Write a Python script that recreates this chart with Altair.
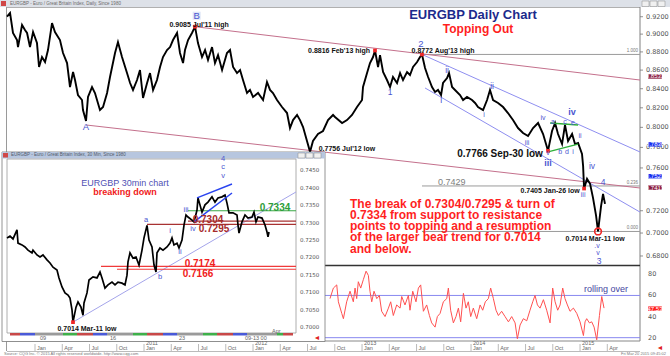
import altair as alt
import pandas as pd

FONT = "Liberation Sans"
RED = "#ff1f1f"
WAVE = "#4a55d0"
AXTXT = "#555555"

# ---------------- main daily EURGBP (fractional year, price) ----------------
px_t = [
    2009.743, 2009.771, 2009.798, 2009.835, 2009.844, 2009.881, 2009.908, 2009.927, 2009.954, 2009.982,
    2010.018, 2010.037, 2010.064, 2010.092, 2010.119, 2010.156, 2010.183, 2010.229, 2010.257, 2010.294,
    2010.321, 2010.349, 2010.367, 2010.394, 2010.431, 2010.440, 2010.468, 2010.486, 2010.523, 2010.550,
    2010.596, 2010.624, 2010.661, 2010.688, 2010.734, 2010.761, 2010.798, 2010.844, 2010.872, 2010.899,
    2010.936, 2010.963, 2010.991, 2011.028, 2011.055, 2011.083, 2011.119, 2011.147, 2011.174, 2011.211,
    2011.239, 2011.266, 2011.303, 2011.330, 2011.358, 2011.376, 2011.404, 2011.440, 2011.468, 2011.495,
    2011.532, 2011.560, 2011.587, 2011.624, 2011.651, 2011.679, 2011.716, 2011.761, 2011.789, 2011.817,
    2011.853, 2011.881, 2011.908, 2011.945, 2011.972, 2012.000, 2012.046, 2012.092, 2012.128, 2012.156,
    2012.183, 2012.220, 2012.266, 2012.312, 2012.339, 2012.367, 2012.404, 2012.431, 2012.459, 2012.495,
    2012.523, 2012.550, 2012.596, 2012.642, 2012.688, 2012.734, 2012.752, 2012.817, 2012.862, 2012.908,
    2012.954, 2013.000, 2013.009, 2013.046, 2013.073, 2013.101, 2013.119, 2013.147, 2013.165, 2013.193,
    2013.229, 2013.257, 2013.284, 2013.321, 2013.349, 2013.376, 2013.413, 2013.440, 2013.468, 2013.505,
    2013.532, 2013.550, 2013.578, 2013.606, 2013.642, 2013.670, 2013.697, 2013.725, 2013.743, 2013.780,
    2013.798, 2013.826, 2013.853, 2013.899, 2013.927, 2013.963, 2014.009, 2014.037, 2014.064, 2014.110,
    2014.147, 2014.174, 2014.202, 2014.248, 2014.294, 2014.339, 2014.385, 2014.431, 2014.477, 2014.523,
    2014.569, 2014.615, 2014.661, 2014.706, 2014.743, 2014.771, 2014.798, 2014.835, 2014.862, 2014.890,
    2014.927, 2014.954, 2014.982, 2015.018, 2015.028, 2015.037, 2015.064, 2015.092, 2015.119, 2015.147,
    2015.165, 2015.193, 2015.211, 2015.229]
px_v = [
    0.9200, 0.9243, 0.9013, 0.8933, 0.8854, 0.9104, 0.9047, 0.9013, 0.8854, 0.9024,
    0.8899, 0.8634, 0.8743, 0.8688, 0.8821, 0.9127, 0.9024, 0.8933, 0.8788, 0.8677,
    0.8418, 0.8579, 0.8493, 0.8334, 0.8281, 0.8177, 0.8064, 0.8313, 0.8418, 0.8355,
    0.8177, 0.8208, 0.8355, 0.8525, 0.8788, 0.8910, 0.8743, 0.8568, 0.8461, 0.8387,
    0.8493, 0.8601, 0.8302, 0.8461, 0.8568, 0.8387, 0.8493, 0.8634, 0.8743, 0.8821,
    0.8854, 0.8933, 0.9013, 0.8788, 0.8677, 0.8821, 0.8933, 0.9013, 0.9085, 0.8899,
    0.8743, 0.8821, 0.8710, 0.8854, 0.8677, 0.8765, 0.8601, 0.8788, 0.8821, 0.8634,
    0.8568, 0.8601, 0.8493, 0.8355, 0.8387, 0.8313, 0.8355, 0.8281, 0.8472, 0.8387,
    0.8355, 0.8281, 0.8208, 0.8146, 0.7993, 0.8074, 0.8126, 0.8074, 0.8003, 0.7863,
    0.7756, 0.7863, 0.7933, 0.7963, 0.8074, 0.8126, 0.8105, 0.8044, 0.8074, 0.8126,
    0.8208, 0.8281, 0.8418, 0.8568, 0.8677, 0.8743, 0.8816, 0.8634, 0.8765, 0.8579,
    0.8493, 0.8418, 0.8525, 0.8461, 0.8568, 0.8493, 0.8579, 0.8547, 0.8634, 0.8688,
    0.8743, 0.8772, 0.8623, 0.8525, 0.8418, 0.8366, 0.8387, 0.8334, 0.8461, 0.8514,
    0.8568, 0.8418, 0.8387, 0.8334, 0.8281, 0.8313, 0.8281, 0.8250, 0.8208, 0.8177,
    0.8281, 0.8387, 0.8281, 0.8250, 0.8208, 0.8146, 0.8074, 0.7993, 0.7943, 0.7913,
    0.7993, 0.8044, 0.7933, 0.7766, 0.7963, 0.8044, 0.7933, 0.7833, 0.8024, 0.7863,
    0.7933, 0.7833, 0.7843, 0.7736, 0.7620, 0.7405, 0.7496, 0.7449, 0.7318, 0.7155,
    0.7014, 0.7245, 0.7355, 0.7263]

# ---------------- daily RSI ----------------
rsi_t = [
    2012.706, 2012.737, 2012.768, 2012.783, 2012.814, 2012.829, 2012.859, 2012.890, 2012.920, 2012.936,
    2012.951, 2012.966, 2012.988, 2013.012, 2013.037, 2013.058, 2013.073, 2013.089, 2013.110, 2013.135,
    2013.159, 2013.180, 2013.211, 2013.242, 2013.263, 2013.287, 2013.318, 2013.349, 2013.364, 2013.394,
    2013.425, 2013.440, 2013.465, 2013.495, 2013.517, 2013.538, 2013.563, 2013.593, 2013.618, 2013.639,
    2013.670, 2013.691, 2013.716, 2013.746, 2013.777, 2013.792, 2013.813, 2013.838, 2013.862, 2013.884,
    2013.905, 2013.930, 2013.954, 2013.975, 2013.997, 2014.021, 2014.052, 2014.083, 2014.107, 2014.131,
    2014.159, 2014.180, 2014.205, 2014.229, 2014.251, 2014.281, 2014.312, 2014.343, 2014.373, 2014.404,
    2014.425, 2014.450, 2014.480, 2014.511, 2014.541, 2014.566, 2014.587, 2014.609, 2014.633, 2014.664,
    2014.694, 2014.725, 2014.749, 2014.771, 2014.795, 2014.817, 2014.841, 2014.862, 2014.884, 2014.908,
    2014.939, 2014.970, 2015.000, 2015.031, 2015.046, 2015.061, 2015.086, 2015.107, 2015.129, 2015.153,
    2015.178, 2015.199, 2015.220]
rsi_v = [
    57, 67, 70, 54, 43, 38, 54, 64, 54, 67,
    57, 73, 67, 75, 83, 79, 64, 54, 64, 57,
    60, 45, 40, 48, 54, 41, 51, 48, 59, 51,
    60, 46, 64, 54, 67, 70, 45, 51, 41, 34,
    30, 40, 43, 54, 57, 67, 46, 34, 40, 48,
    35, 62, 48, 54, 40, 48, 38, 51, 46, 54,
    57, 67, 57, 46, 41, 45, 40, 35, 40, 34,
    19, 32, 38, 36, 46, 54, 60, 51, 48, 56,
    46, 34, 67, 54, 46, 51, 67, 57, 51, 45,
    48, 43, 35, 22, 35, 38, 34, 35, 30, 18,
    41, 59, 48]

# ---------------- 30 min inset (bar index, price) ----------------
in_t = [0, 3, 6, 10, 11, 15, 18, 21, 25, 26,
        30, 33, 36, 40, 43, 46, 50, 52, 55, 58,
        61, 63, 65, 66, 69, 71, 74, 76, 77, 80,
        82, 86, 90, 93, 95, 98, 101, 105, 108, 111,
        115, 118, 120, 121, 123, 126, 129, 132, 135, 137,
        140, 142, 145, 147, 149, 150, 153, 156, 160, 163,
        165, 167, 170, 172, 175, 177, 179, 181, 185, 187,
        190, 191, 195, 198, 201, 205, 208, 211, 215, 218,
        220, 222, 226, 230, 231, 232, 235, 238, 241, 245,
        247, 249, 251, 255, 258, 260, 261, 262]
in_v = [0.7256, 0.7261, 0.7253, 0.7279, 0.7241, 0.7236, 0.7230, 0.7221, 0.7213, 0.7221,
        0.7207, 0.7201, 0.7207, 0.7193, 0.7184, 0.7172, 0.7164, 0.7141, 0.7115, 0.7098,
        0.7092, 0.7083, 0.7049, 0.7014, 0.7057, 0.7072, 0.7057, 0.7034, 0.7069, 0.7098,
        0.7135, 0.7144, 0.7141, 0.7158, 0.7141, 0.7112, 0.7121, 0.7129, 0.7121, 0.7129,
        0.7126, 0.7121, 0.7149, 0.7187, 0.7213, 0.7198, 0.7201, 0.7178, 0.7221, 0.7256,
        0.7292, 0.7250, 0.7230, 0.7178, 0.7158, 0.7213, 0.7227, 0.7221, 0.7230, 0.7241,
        0.7256, 0.7236, 0.7241, 0.7227, 0.7250, 0.7293, 0.7322, 0.7316, 0.7307, 0.7302,
        0.7336, 0.7371, 0.7330, 0.7351, 0.7359, 0.7374, 0.7359, 0.7371, 0.7374, 0.7379,
        0.7356, 0.7328, 0.7328, 0.7322, 0.7293, 0.7270, 0.7302, 0.7322, 0.7313, 0.7316,
        0.7330, 0.7302, 0.7316, 0.7313, 0.7293, 0.7273, 0.7259, 0.7273]

# ---------------- tick labels ----------------
price_ticks = [0.92, 0.90, 0.88, 0.86, 0.84, 0.82, 0.80, 0.78, 0.76, 0.72, 0.70, 0.68]
rsi_ticks = [80, 60, 40, 20]
rsi_levels = [60, 20]
inset_ticks = [0.7450, 0.7400, 0.7350, 0.7300, 0.7250, 0.7200, 0.7150, 0.7100, 0.7050, 0.7000]
month_ticks = [2010 + i * 0.25 for i in range(22)]
month_names = ["Jan", "Apr", "Jul", "Oct"] * 5 + ["Jan", "Apr"]
year_ticks = [2011, 2012, 2013, 2014, 2015]
inset_day_t = [31, 101, 170, 236]
inset_day_lab = ["09", "16", "23", "09-13 00"]

# ---------------- annotations (main) ----------------
pink_segs = [(2011.468, 0.9085, 2015.55, 0.8493), (2010.468, 0.8024, 2015.55, 0.7410)]
blue_segs = [(2013.550, 0.8772, 2015.55, 0.7755), (2013.578, 0.8408, 2015.55, 0.7188)]
green_segs = [(2014.725, 0.8044, 2014.982, 0.8024), (2014.706, 0.7755, 2014.982, 0.7833)]
fib_start = 2013.55
fib_end = 2015.55
fib_levels = [0.8772, 0.7429, 0.7014]
fib_names = ["1.000", "0.236", "0.000"]
swing_pts = [(2011.468, 0.9085), (2013.119, 0.8816), (2013.550, 0.8772), (2014.706, 0.7766), (2015.037, 0.7405)]
mar_low = [(2015.165, 0.7014)]
swing_labels = [("0.9085 Jul'11 high", 2011.505, 0.9108), ("0.8816 Feb'13 high", 2012.789, 0.8810),
                ("0.8772 Aug'13 high", 2013.743, 0.8810), ("0.7756 Jul'12 low", 2012.862, 0.7784),
                ("0.7405 Jan-26 low", 2014.725, 0.7382), ("0.7014 Mar-11 low", 2015.138, 0.6948)]
sep_label = [("0.7766 Sep-30 low", 2014.266, 0.7736)]
level_label = [("0.7429", 2013.697, 0.7466)]
wave_big = [("B", 2011.483, 0.9212), ("A", 2010.468, 0.8003), ("2", 2013.541, 0.8888)]
wave_mid = [("1", 2013.257, 0.8365), ("I", 2013.725, 0.8281), ("ii", 2013.780, 0.8601),
            ("ii", 2014.193, 0.8429), ("iv", 2015.110, 0.7620), ("4", 2015.211, 0.7466),
            ("3", 2015.174, 0.6757)]
wave_small = [("i", 2014.119, 0.8126), ("iii", 2014.514, 0.7843), ("iv", 2014.661, 0.8095),
              ("a", 2014.752, 0.8054), ("c", 2014.862, 0.8054), ("e", 2014.936, 0.8044),
              ("b", 2014.817, 0.7755), ("d", 2014.881, 0.7755), ("i", 2014.936, 0.7755),
              ("ii", 2015.000, 0.7913), ("v", 2014.706, 0.7745), ("iii", 2015.028, 0.7344),
              (".v", 2015.156, 0.6886), ("v", 2015.165, 0.6826)]
wave_bold = [("iv", 2014.927, 0.8152), ("iii", 2014.706, 0.7652)]
box_red = [(0.8531, "0.8531"), (0.7413, "0.7413")]
box_blue = [(0.7830, "0.7830"), (0.7521, "0.7521")]
rsi_box = [(47.53, "47.53")]
rsi_note = [("rolling over", 2015.239, 66.0)]
note_lines = ["The break of 0.7304/0.7295 & turn of",
              "0.7334 from support to resistance",
              "points to topping and a resumption",
              "of the larger bear trend for 0.7014",
              "and below."]

# ---------------- annotations (inset) ----------------
in_green = [(181, 0.7334, 289, 0.7334)]
in_dred = [(181, 0.7304, 289, 0.7304), (140, 0.7295, 289, 0.7295)]
in_red = [(94, 0.7174, 289, 0.7174), (110, 0.7166, 289, 0.7166)]
in_trend = [(66, 0.7014, 289, 0.7388)]
in_wedge = [(190, 0.7371, 225, 0.7411), (187, 0.7302, 225, 0.7385)]
in_low = [(66, 0.7014)]
in_waves = [("4", 216, 0.7484), ("c", 216, 0.7461), ("v", 216, 0.7434), ("iii", 179, 0.7336),
            ("a", 139, 0.7307), ("i", 163, 0.7276), ("ii", 173, 0.7216), ("b", 153, 0.7144),
            ("iv", 186, 0.7282)]
in_lv_dred = [("0.7304", 201, 0.7307), ("0.7295", 207, 0.7282)]
in_lv_green = [("0.7334", 268, 0.7342)]
in_lv_red = [("0.7174", 193, 0.7181), ("0.7166", 191, 0.7152)]
in_low_label = [("0.7014 Mar-11 low", 80, 0.6994)]
bar_red = [(3, 13), (70, 86), (140, 156), (210, 226), (276, 286)]
bar_blue = [(13, 28), (86, 100), (156, 170), (226, 240)]
bar_dark = [(28, 56), (100, 126), (170, 196), (240, 270)]
bar_green = [(56, 70), (126, 140), (196, 210), (270, 276)]

# ---------------- scales ----------------
MX = alt.Scale(domain=[2009.743, 2015.55], range=[7, 640], nice=False, zero=False)
MY = alt.Scale(type="log", domain=[0.6723, 0.9302], range=[265, 8], nice=False)
RY = alt.Scale(domain=[17.8, 87.9], range=[340, 266], nice=False, zero=False)
IX = alt.Scale(domain=[0, 289], range=[7, 296], nice=False, zero=False)
IY = alt.Scale(domain=[0.69828, 0.74856], range=[333, 158], nice=False, zero=False)

one = pd.DataFrame({"k": [0]})


def enc(xs, ys):
    return dict(x=alt.X("t:Q", scale=xs, axis=None), y=alt.Y("p:Q", scale=ys, axis=None))


def box(x1, x2, y1, y2, fill, stroke="", sw=0.0):
    kw = dict(fill=fill)
    if stroke:
        kw.update(stroke=stroke, strokeWidth=sw)
    return alt.Chart(one).mark_rect(**kw).encode(
        x=alt.value(x1), x2=alt.value(x2), y=alt.value(y1), y2=alt.value(y2))


def hline(x1, x2, y, color, sw=1.0):
    return alt.Chart(one).mark_rule(color=color, strokeWidth=sw).encode(
        x=alt.value(x1), x2=alt.value(x2), y=alt.value(y))


def vline(x, y1, y2, color, sw=1.0):
    return alt.Chart(one).mark_rule(color=color, strokeWidth=sw).encode(
        x=alt.value(x), y=alt.value(y1), y2=alt.value(y2))


def note(txt, x, y, size, color, weight="normal", align="left", baseline="middle", **kw):
    return alt.Chart(one).mark_text(text=txt, fontSize=size, color=color, fontWeight=weight,
                                    align=align, baseline=baseline, font=FONT, **kw).encode(
        x=alt.value(x), y=alt.value(y))


def seg_df(segs):
    rows = []
    for i, (t1, p1, t2, p2) in enumerate(segs):
        rows.append({"t": t1, "p": p1, "s": i})
        rows.append({"t": t2, "p": p2, "s": i})
    return pd.DataFrame(rows)


def seg_chart(segs, xs, ys, color, sw=1.0):
    return alt.Chart(seg_df(segs)).mark_line(color=color, strokeWidth=sw).encode(
        detail="s:N", **enc(xs, ys))


def text_chart(items, xs, ys, size, color, weight="normal", align="center"):
    df = pd.DataFrame(items, columns=["txt", "t", "p"])
    return alt.Chart(df).mark_text(fontSize=size, color=color, fontWeight=weight, align=align,
                                   baseline="middle", font=FONT).encode(text="txt:N", **enc(xs, ys))


def pt_chart(items, xs, ys, **mk):
    df = pd.DataFrame(items, columns=["t", "p"])
    return alt.Chart(df).mark_point(**mk).encode(**enc(xs, ys))


BOX = "M-1.7,-0.55L1.7,-0.55L1.7,0.55L-1.7,0.55Z"


def axis_boxes(items, ys, color, x):
    df = pd.DataFrame(items, columns=["p", "lab"])
    y = alt.Y("p:Q", scale=ys, axis=None)
    b = alt.Chart(df).mark_point(shape=BOX, size=64, filled=True, color=color, opacity=1,
                                 strokeWidth=0).encode(x=alt.value(x), y=y)
    t = alt.Chart(df).mark_text(fontSize=6, color="white", font=FONT).encode(
        x=alt.value(x), y=y, text="lab:N")
    return [b, t]


# ---------------- chrome ----------------
chrome = alt.layer(
    box(0, 670, 0, 356, "white"),
    box(0, 670, 0, 7, "#dde1e8"),
    box(1, 6, 1, 6, "#d04848"),
    note("EURGBP - Euro / Great Britain Index, Daily, Since 1980", 10, 3.7, 4.5, "#6b6b6b"),
    box(642, 649, 1, 6.5, "#f0f0f0", "#888", 0.5),
    box(650, 657, 1, 6.5, "#f0f0f0", "#888", 0.5),
    box(658, 665, 1, 6.5, "#f0f0f0", "#888", 0.5),
    hline(6, 640, 7.5, "#b0b0b0", 1),
    vline(6.5, 7, 351, "#9a9a9a", 1),
    vline(640, 7, 341, "#808080", 1),
)

# ---------------- main price panel ----------------
price_df = pd.DataFrame({"t": px_t, "p": px_v})
fib_df = pd.DataFrame({"p": fib_levels, "lab": fib_names, "t": [fib_start] * 3, "t2": [fib_end] * 3})
ptick_df = pd.DataFrame({"p": price_ticks, "lab": [f"{v:.4f}" for v in price_ticks]})
b_box = [(2011.483, 0.9212)]

main = alt.layer(
    alt.Chart(fib_df).mark_rule(color="#9a9a9a", strokeWidth=1).encode(
        x=alt.X("t:Q", scale=MX, axis=None), x2="t2:Q", y=alt.Y("p:Q", scale=MY, axis=None)),
    alt.Chart(fib_df).mark_text(fontSize=4.5, color="#777", align="right", dy=-3, dx=-2, font=FONT).encode(
        x=alt.X("t2:Q", scale=MX, axis=None), y=alt.Y("p:Q", scale=MY, axis=None), text="lab:N"),
    seg_chart(pink_segs, MX, MY, "#c4708c", 1.0),
    seg_chart(blue_segs, MX, MY, "#8e8ef0", 1.0),
    alt.Chart(price_df).mark_line(color="black", strokeWidth=1.9).encode(**enc(MX, MY)),
    seg_chart(green_segs, MX, MY, "#2fb03a", 1.3),
    pt_chart(swing_pts, MX, MY, shape="square", size=14, filled=True, color="#f02828", opacity=1),
    pt_chart(mar_low, MX, MY, shape="circle", size=45, filled=False, color="#f02828",
             strokeWidth=1.6, opacity=1),
    pt_chart(b_box, MX, MY, shape="square", size=64, filled=True, color="#dfe6f7", opacity=1),
    text_chart(swing_labels, MX, MY, 7, "#111", "bold"),
    text_chart(sep_label, MX, MY, 10, "#111", "bold"),
    text_chart(level_label, MX, MY, 9, "#808080", "normal", "left"),
    text_chart(wave_big, MX, MY, 9.5, WAVE),
    text_chart(wave_mid, MX, MY, 8.5, WAVE),
    text_chart(wave_small, MX, MY, 7, WAVE),
    text_chart(wave_bold, MX, MY, 9, WAVE, "bold"),
    alt.Chart(ptick_df).mark_rule(color="#777", strokeWidth=0.8).encode(
        x=alt.value(640), x2=alt.value(643), y=alt.Y("p:Q", scale=MY, axis=None)),
    alt.Chart(ptick_df).mark_text(fontSize=6.5, color=AXTXT, align="left", font="DejaVu Sans").encode(
        x=alt.value(646), y=alt.Y("p:Q", scale=MY, axis=None), text="lab:N"),
    *axis_boxes(box_red, MY, "#8a1c40", 655),
    *axis_boxes(box_blue, MY, "#1a30f0", 655),
)

# ---------------- RSI panel ----------------
rsi_df = pd.DataFrame({"t": rsi_t, "p": rsi_v})
rtick_df = pd.DataFrame({"p": rsi_ticks, "lab": [str(v) for v in rsi_ticks]})
rlev_df = pd.DataFrame({"p": rsi_levels})
rsi = alt.layer(
    alt.Chart(rlev_df).mark_rule(color="#8888f0", strokeWidth=1).encode(
        x=alt.value(7), x2=alt.value(640), y=alt.Y("p:Q", scale=RY, axis=None)),
    alt.Chart(rsi_df).mark_line(color="#ff5050", strokeWidth=1).encode(**enc(MX, RY)),
    text_chart(rsi_note, MX, RY, 9, "#4545a0"),
    alt.Chart(rtick_df).mark_text(fontSize=6.5, color=AXTXT, align="left", font="DejaVu Sans").encode(
        x=alt.value(648), y=alt.Y("p:Q", scale=RY, axis=None), text="lab:N"),
    *axis_boxes(rsi_box, RY, "#ff2020", 655),
)

panel_sep = alt.layer(hline(7, 640, 265.5, "#333333", 1.6), hline(7, 640, 341, "#888888", 1))

# ---------------- inset (30 min) ----------------
in_df = pd.DataFrame({"t": in_t, "p": in_v})
itick_df = pd.DataFrame({"p": inset_ticks, "lab": [f"{v:.4f}" for v in inset_ticks]})


def bar_chart(items, color):
    df = pd.DataFrame(items, columns=["t", "t2"])
    return alt.Chart(df).mark_rect(color=color).encode(
        x=alt.X("t:Q", scale=IX, axis=None), x2="t2:Q", y=alt.value(333), y2=alt.value(335.5))


day_df = pd.DataFrame({"t": inset_day_t, "lab": inset_day_lab})

inset = alt.layer(
    box(2, 325, 152, 341.5, "white", "#7a7a7a", 0.8),
    box(2, 325, 152, 158.5, "#b7c6df"),
    box(3, 8, 153, 157.5, "#d04848"),
    note("EURGBP - Euro / Great Britain Index, 30 Min, Since 1980", 11, 155.3, 4.5, "#505a6a"),
    box(298, 305, 153, 158, "#f0f0f0", "#888", 0.5),
    box(306, 313, 153, 158, "#f0f0f0", "#888", 0.5),
    box(314, 321, 153, 158, "#f0f0f0", "#888", 0.5),
    box(7, 296, 159, 333, "white", "#9a9a9a", 0.8),
    bar_chart(bar_red, "#c84848"), bar_chart(bar_blue, "#4a5ad8"),
    bar_chart(bar_dark, "#9a9a9a"), bar_chart(bar_green, "#3fb04a"),
    alt.Chart(day_df).mark_text(fontSize=5.5, color="#666", align="left", dx=2, font=FONT).encode(
        x=alt.X("t:Q", scale=IX, axis=None), y=alt.value(338), text="lab:N"),
    note("Apr", 272, 330.5, 5.5, "#666"),
    note("\u25c4", 317, 338, 7, "#e02020", align="center"),
    seg_chart(in_trend, IX, IY, "#a4a4ea", 1.0),
    seg_chart(in_green, IX, IY, "#3aa846", 1.2),
    seg_chart(in_dred, IX, IY, "#a83232", 1.2),
    seg_chart(in_red, IX, IY, "#f03a3a", 1.2),
    alt.Chart(in_df).mark_line(color="black", strokeWidth=1.7).encode(**enc(IX, IY)),
    seg_chart(in_wedge, IX, IY, "#2a44f0", 1.5),
    pt_chart(in_low, IX, IY, shape="square", size=14, filled=True, color="#f02828", opacity=1),
    text_chart(in_waves, IX, IY, 7.5, WAVE),
    text_chart(in_lv_dred, IX, IY, 10, "#a52a2a", "bold"),
    text_chart(in_lv_green, IX, IY, 10, "#2e9e3a", "bold"),
    text_chart(in_lv_red, IX, IY, 10, "#f02020", "bold"),
    text_chart(in_low_label, IX, IY, 7, "#111", "bold"),
    alt.Chart(itick_df).mark_text(fontSize=5.5, color=AXTXT, align="left", font="DejaVu Sans").encode(
        x=alt.value(300), y=alt.Y("p:Q", scale=IY, axis=None), text="lab:N"),
    note("EURGBP 30min chart", 125, 183, 9, "#5050b4", align="center"),
    note("breaking down", 125, 192, 9, "#f02020", "bold", align="center"),
)

# ---------------- bottom date axis ----------------
mt_df = pd.DataFrame({"t": month_ticks, "lab": month_names})
yt_df = pd.DataFrame({"t": year_ticks, "lab": [str(v) for v in year_ticks]})
xaxis = alt.layer(
    alt.Chart(mt_df).mark_rule(color="#aaaaaa", strokeWidth=0.8).encode(
        x=alt.X("t:Q", scale=MX, axis=None), y=alt.value(344), y2=alt.value(351)),
    alt.Chart(mt_df).mark_text(fontSize=5.5, color="#666", align="left", dx=2, font=FONT).encode(
        x=alt.X("t:Q", scale=MX, axis=None), y=alt.value(348), text="lab:N"),
    alt.Chart(yt_df).mark_text(fontSize=5.5, color="#666", align="left", dx=2, font=FONT).encode(
        x=alt.X("t:Q", scale=MX, axis=None), y=alt.value(343.3), text="lab:N"),
)

# ---------------- free text ----------------
texts = alt.layer(
    note("EURGBP Daily Chart", 473, 15, 13, "#1c2a8c", "bold", align="center"),
    note("Topping Out", 478, 28.5, 12, RED, "bold", align="center"),
    note("\n".join(note_lines), 350, 198.5, 12, RED, "bold", baseline="top",
         lineBreak="\n", lineHeight=11.3),
    hline(7, 640, 351.5, "#aaaaaa", 0.8),
    note("Source: CQG Inc. \u00a9 2015 All rights reserved worldwide. http://www.cqg.com", 4, 354, 4, "#777"),
    note("Fri Mar 20 2015 09:45:02", 666, 354, 4, "#777", align="right"),
    note("\u25c4", 660, 347.5, 7, "#e02020", align="center"),
)

chart = alt.layer(chrome, main, rsi, panel_sep, inset, xaxis, texts).resolve_scale(
    x="independent", y="independent"
).properties(
    width=670, height=356, padding=0, autosize=alt.AutoSizeParams(type="none")
).configure_view(stroke=None)

chart.save("out.html", embed_options={"renderer": "svg", "actions": False})
